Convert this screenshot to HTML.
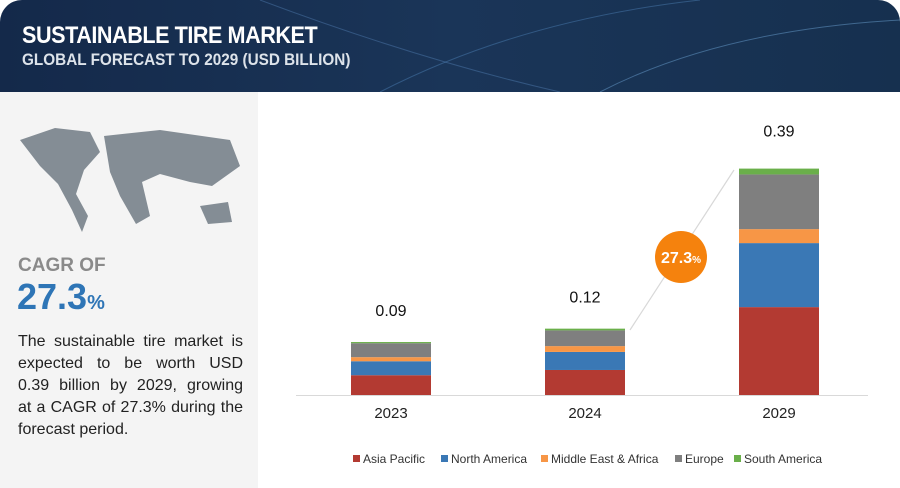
<!DOCTYPE html>
<html><head><meta charset="utf-8"><style>
body{margin:0;width:900px;height:488px;overflow:hidden;background:#fff;font-family:"Liberation Sans",sans-serif;position:relative}
#hdr{position:absolute;left:0;top:0;width:900px;height:92px;border-radius:22px 22px 0 0;background:linear-gradient(90deg,#14294a,#1a3558 50%,#16304f);overflow:hidden}
#t1{position:absolute;left:22px;top:22px;color:#fff;font-weight:bold;font-size:24px;letter-spacing:-0.5px;transform:scaleX(0.9);transform-origin:left}
#t2{position:absolute;left:22px;top:50px;color:#dde3ea;font-weight:bold;font-size:17px;transform:scaleX(0.9);transform-origin:left}
#left{position:absolute;left:0;top:92px;width:258px;height:396px;background:#f4f4f4}
#cagrl{position:absolute;left:18px;color:#8a8a8a;font-weight:bold;font-size:19px}
#cagrv{position:absolute;left:17px;color:#2e75b6;font-weight:bold;font-size:36px}
#cagrv span{font-size:20px}
#desc{position:absolute;left:18px;width:225px;font-size:16px;line-height:22px;color:#222}
#desc div{text-align:justify;text-align-last:justify;white-space:nowrap}
#desc div.last{text-align-last:left}
</style></head><body>
<div id="hdr">
<svg width="900" height="92" style="position:absolute;left:0;top:0">
<path d="M380 92 Q520 20 700 0" stroke="#4a7bb0" stroke-width="1" fill="none" opacity=".5"/>
<path d="M600 92 Q720 30 900 20" stroke="#6aa0d0" stroke-width="1" fill="none" opacity=".5"/>
<path d="M260 0 Q420 60 560 92" stroke="#5a8ac0" stroke-width="1" fill="none" opacity=".4"/>
</svg>
<div id="t1">SUSTAINABLE TIRE MARKET</div>
<div id="t2">GLOBAL FORECAST TO 2029 (USD BILLION)</div>
</div>
<div id="left">
<svg width="258" height="160" style="position:absolute;left:0;top:28px">
<path d="M20 20 L55 8 L90 12 L100 32 L84 50 L76 74 L88 96 L82 112 L72 90 L58 64 L40 46 Z" fill="#848d95"/>
<path d="M104 16 L160 10 L230 20 L240 46 L212 66 L190 62 L160 54 L142 62 L150 96 L136 104 L120 76 L110 52 Z" fill="#848d95"/>
<path d="M200 86 L228 82 L232 102 L208 104 Z" fill="#848d95"/>
</svg>
<div id="cagrl" style="top:163px">CAGR OF</div>
<div id="cagrv" style="top:184px">27.3<span>%</span></div>
<div id="desc" style="top:239px"><div>The sustainable tire market is</div><div>expected to be worth USD</div><div>0.39 billion by 2029, growing</div><div>at a CAGR of 27.3% during the</div><div class="last">forecast period.</div></div>
</div>
<svg id="chart" width="900" height="488" style="position:absolute;left:0;top:0"></svg>
<script>
const years=["2023","2024","2029"];
const totals=["0.09","0.12","0.39"];
const seriesNames=["Asia Pacific","North America","Middle East & Africa","Europe","South America"];
const colors=["#b33a32","#3a78b5","#f79646","#7f7f7f","#6aaf4a"];
const asiaPacific=[0.034,0.043,0.151];
const northAmerica=[0.024,0.031,0.110];
const middleEast=[0.007,0.010,0.024];
const europe=[0.024,0.027,0.094];
const southAmerica=[0.002,0.003,0.010];
const series=[asiaPacific,northAmerica,middleEast,europe,southAmerica];
const NS="http://www.w3.org/2000/svg";
const svg=document.getElementById('chart');
const base=395,scale=582,barW=80;
const xc=i=>391+i*194;
const y=v=>base-v*scale;
function mk(t,a){const e=document.createElementNS(NS,t);for(const k in a)e.setAttribute(k,a[k]);svg.appendChild(e);return e;}
let ax=mk('line',{x1:296,x2:868,y1:base+0.5,y2:base+0.5,stroke:'#d9d9d9'});


let ar=mk('line',{x1:630,y1:330,x2:734,y2:170,stroke:'#d8d8d8','stroke-width':1.2});


years.forEach((yr,i)=>{
 let cum=0;
 series.forEach((s,j)=>{
  const r=mk('rect',{x:xc(i)-barW/2,y:y(cum+s[i]),width:barW,height:s[i]*scale,fill:colors[j]});
  
  
  cum+=s[i];
 });
 const t=mk('text',{x:xc(i),y:y(cum)-(i==2?32:26),'text-anchor':'middle','font-size':16,fill:'#111'});
 t.textContent=totals[i];
 
 
 const l=mk('text',{x:xc(i),y:418,'text-anchor':'middle','font-size':15,fill:'#222'});
 l.textContent=yr;
 
 
});
const c=mk('circle',{cx:681,cy:257,r:26,fill:'#f5820d'});


const ct=mk('text',{x:681,y:263,'text-anchor':'middle','font-size':16,'font-weight':'bold',fill:'#fff'});
ct.innerHTML='27.3<tspan font-size="10">%</tspan>';


const lx=[353,441,541,675,734];
seriesNames.forEach((n,j)=>{
 const g=document.createElementNS(NS,'g');svg.appendChild(g);
 
 
 const r=document.createElementNS(NS,'rect');
 r.setAttribute('x',lx[j]);r.setAttribute('y',455);r.setAttribute('width',7);r.setAttribute('height',7);r.setAttribute('fill',colors[j]);g.appendChild(r);
 const t=document.createElementNS(NS,'text');
 t.setAttribute('x',lx[j]+10);t.setAttribute('y',463);t.setAttribute('font-size',12);t.setAttribute('fill','#333');t.textContent=n;g.appendChild(t);
});
</script>
</body></html>
